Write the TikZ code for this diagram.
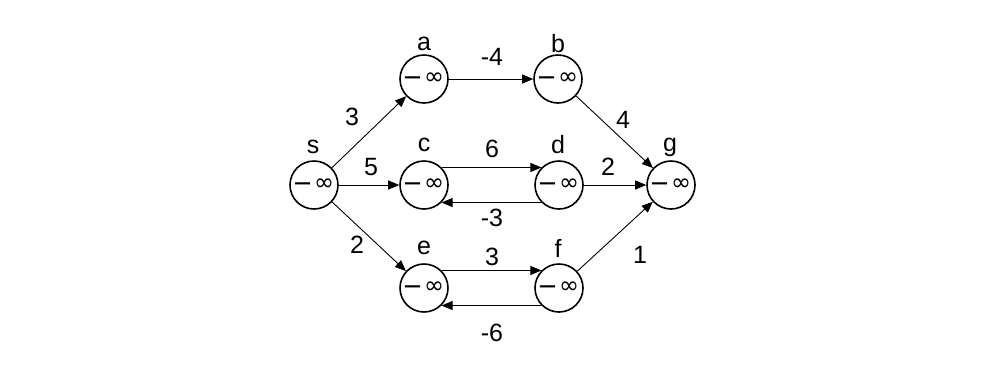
\documentclass[tikz,border=0pt]{standalone}
\usepackage{fontspec}
\setmainfont{Liberation Sans}
\newfontfamily\dvs{DejaVu Sans}
\usetikzlibrary{arrows.meta}
\newcommand{\minf}{\dvs\raisebox{2.5pt}{\fontsize{17}{18}\selectfont\bfseries\textemdash}\hspace{3pt}∞}
\begin{document}
\begin{tikzpicture}[x=1pt,y=-1pt,
  vtx/.style={circle,draw,line width=1.6pt,minimum size=48pt,inner sep=0pt,
    font=\fontsize{24}{24}\selectfont},
  lbl/.style={font=\fontsize{25}{26}\selectfont,inner sep=0pt},
  edge/.style={-{Triangle[length=11pt,width=9pt]},line width=0.9pt}]
\useasboundingbox[fill=white] (0,0) rectangle (987,384);
\node[vtx] (s) at (314,185) {\minf};
\node[vtx] (a) at (424,79) {\minf};
\node[vtx] (b) at (558,79) {\minf};
\node[vtx] (c) at (424,185) {\minf};
\node[vtx] (d) at (559,185) {\minf};
\node[vtx] (g) at (671,185) {\minf};
\node[vtx] (e) at (424,288) {\minf};
\node[vtx] (f) at (559,288) {\minf};
\node[lbl] (ls) at (313,147) {s};
\node[lbl] (la) at (424,44) {a};
\node[lbl] (lb) at (558,44) {b};
\node[lbl] (lc) at (424,145) {c};
\node[lbl] (ld) at (558,145) {d};
\node[lbl] (lg) at (670,147) {g};
\node[lbl] (le) at (424,248) {e};
\node[lbl] (lf) at (558,248) {f};
\draw[edge] (s) -- (a);
\draw[edge] (s) -- (c);
\draw[edge] (s) -- (e);
\draw[edge] (a) -- (b);
\draw[edge] (b) -- (g);
\draw[edge] (c.45) -- (d.135);
\draw[edge] (d.-135) -- (c.-45);
\draw[edge] (d) -- (g);
\draw[edge] (e.45) -- (f.135);
\draw[edge] (f.-135) -- (e.-45);
\draw[edge] (f) -- (g);
\node[lbl] (w1) at (352,117) {3};
\node[lbl] (w2) at (371,167) {5};
\node[lbl] (w3) at (357,245) {2};
\node[lbl] (w4) at (492,57) {-4};
\node[lbl] (w5) at (492,149) {6};
\node[lbl] (w6) at (492,218) {-3};
\node[lbl] (w7) at (623,120) {4};
\node[lbl] (w8) at (608,167) {2};
\node[lbl] (w9) at (492,257) {3};
\node[lbl] (w10) at (492,333) {-6};
\node[lbl] (w11) at (640,255) {1};
\end{tikzpicture}
\end{document}
